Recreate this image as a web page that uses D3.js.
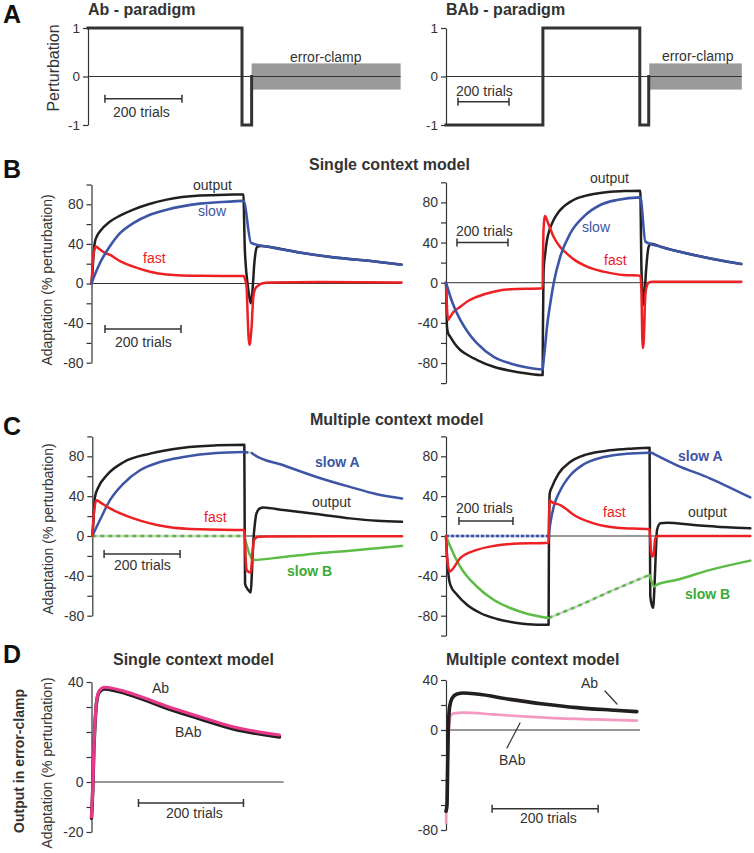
<!DOCTYPE html>
<html><head><meta charset="utf-8">
<script src="https://cdn.jsdelivr.net/npm/d3@7/dist/d3.min.js"></script>
<style>body{margin:0;background:#fff}svg{display:block;font-family:"Liberation Sans",Arial,Helvetica,sans-serif}</style>
</head><body>
<script>
// ---------------- DATA (trial, value) ----------------
// Panel A: perturbation schedules
const perturbAb  = [[0,1],[400,1],[400,-1],[425,-1],[425,0]];
const perturbBAb = [[0,-1],[380,-1],[380,1],[760,1],[760,-1],[795,-1],[795,0]];
const clampAb  = [425, 812];
const clampBAb = [797, 1160];
const clampHalf = 0.27;

// Panel B left (single context, Ab)
const outputB1 = [[0,0],[3,14],[5,27],[9,42],[14,47.5],[22,52.5],[49,62.7],[75,68.5],[110,74.6],[150,80],[198,84.7],[285,88.8],[373,89.8],[400,90],[401,75],[403,40],[406,18],[410,2],[414,-10],[419,-20],[422,-14],[425,0],[428,18],[432,32],[436,37],[445,38],[461,37.3],[549,31.2],[636,26.4],[751,22],[816,19]];
const slowB1   = [[0,0],[10,10],[22,20.5],[48,37.3],[75,50.8],[110,61],[154,69.5],[198,74.6],[285,80.7],[373,83],[400,83.5],[420,41],[461,37.3],[549,31.2],[636,26.4],[751,22],[816,19]];
const fastB1   = [[0,0],[2,12],[4,25],[7,33],[12,37],[20,35],[35,31],[49,28.8],[75,22.5],[110,17],[154,11.9],[198,9.2],[285,7.8],[400,7.5],[405,3],[408,-3],[411,-33],[413,-52],[415,-62],[417,-61],[419,-54],[422,-40],[424,-24],[426,-13],[430,-6],[436,-3],[448,0],[470,1],[600,1.5],[816,1]];

// Panel B right (single context, BAb)
const outputB2 = [[0,0],[2,-25],[4,-44],[8,-50],[17,-54],[35,-61],[56,-67],[88,-72.5],[122,-77],[187,-83.7],[252,-87.7],[318,-90.4],[379,-92],[380,-50],[382,0],[383,12.6],[389,29],[396,42.5],[408,54],[422,62.5],[440,70],[461,75.7],[487,80.5],[513,84],[545,86.5],[579,88.4],[644,90.7],[700,91.3],[762,91.7],[764,60],[766,19],[770,-7],[775,-22],[779,-10],[784,10],[790,28],[795,36],[805,38.9],[841,35.9],[972,27.6],[1102,21],[1158,18.6]];
const slowB2   = [[0,0],[5,-4],[17,-14],[35,-26],[56,-37],[88,-50],[122,-60.5],[187,-73.8],[252,-80.4],[318,-84.4],[379,-86.4],[383,-77],[390,-60],[396,-43.9],[409,-20.6],[422,-0.7],[448,26],[487,49],[540,65.8],[605,77.4],[670,82.4],[762,85],[782,40.9],[841,35.9],[972,27.6],[1102,21],[1158,18.6]];
const fastB2   = [[0,0],[3,-20],[8,-37],[14,-35],[30,-29],[56,-24],[88,-18],[122,-14],[187,-9],[252,-6.6],[379,-5.6],[380,20],[382,50],[386,64],[389,66.4],[395,63],[401,59],[422,45.8],[446,36],[474,29],[505,22.5],[540,17.6],[580,13.5],[618,11],[697,7.6],[762,7],[765,0],[767,-14],[769,-45],[771,-65],[773,-63.5],[775,-60],[778,-40],[780,-20.6],[785,-5.6],[795,0],[810,1],[1158,1]];

// Panel C left (multiple context, Ab)
const outputC1   = [[0,0],[2.6,12.7],[7,39],[16,49],[38,61],[82,74],[152,82.7],[240,88.7],[327,91],[400,91.7],[401,10],[402,-48],[410,-54],[417,-56.7],[420,-37],[424,-4],[428,12.7],[432,22.7],[441,27.7],[450,28.7],[503,26],[590,22],[678,17.7],[749,15.3],[815,14.3]];
const slowAC1    = [[0,0],[20,16],[46.5,36],[82,52.7],[125.5,66],[178,74.3],[240,79.3],[327,83.3],[400,84.3]];
const slowAC1off = [[400,84.3],[420,83.3]];
const slowAC1b   = [[420,83.3],[424,82],[503,71],[590,59.3],[678,49.3],[749,42],[815,37.7]];
const fastC1     = [[0,0],[2,12],[5,26],[11,36],[20,34],[46.5,27.7],[108,17.7],[152,12.7],[196,9.3],[283,6.7],[400,6],[402,-5],[404,-25],[406,-34],[410,-35.7],[417,-36.7],[419,-30],[421,-20.7],[425.6,-4],[437,-0.7],[460,-0.5],[815,-0.3]];
const slowBC1off = [[0,0],[400,0]];
const slowBC1    = [[400,0],[424,-24],[503,-21],[590,-17.5],[678,-14.7],[749,-12.3],[815,-10]];

// Panel C right (multiple context, BAb)
const outputC2   = [[0,0],[3.7,-20.7],[9.9,-40.7],[16,-49],[40.7,-59],[77.8,-69],[127,-77.3],[189,-83.3],[263,-87.3],[337,-89],[380,-89],[381,-20],[384,42.7],[392.6,49.3],[417,62.7],[460,74.3],[522,82],[608.6,86],[682.7,87.7],[754,88.7],[755,20],[756.6,-60.7],[766.6,-72.3],[771.6,-54],[776.5,-20.7],[781.5,6],[794,12.7],[818.5,13.3],[917,11],[1041,8.7],[1127,7.7]];
const slowAC2off = [[0,0],[380,0]];
const slowAC2    = [[380,0],[386.4,12.7],[398.8,29.3],[423.5,46],[460.5,61],[510,72],[584,79.3],[670,82.7],[754,83.7]];
const slowAC2off2= [[754,83.7],[769,83]];
const slowAC2b   = [[769,82.5],[855.6,71],[979,57.7],[1127,38.7]];
const fastC2     = [[0,0],[2,-12],[6,-27],[13.6,-35.7],[22,-34],[52.6,-22.3],[114,-14],[176,-10],[238,-8],[380,-6.7],[381,10],[384,36],[390,34.5],[423.5,31],[485,19.3],[547,12.7],[633,8.3],[754,6.7],[756,-2],[759,-14],[763,-20.7],[769,-19],[772,-10],[775,-2.3],[788,0],[1127,0]];
const slowBC2    = [[0,0],[16,-10.7],[52.6,-30.7],[114,-50.7],[176,-64],[238,-72.3],[300,-78],[380,-82.3]];
const slowBC2off = [[380,-82.3],[485,-70.7],[608.6,-55.7],[754,-39]];
const slowBC2b   = [[754,-39],[771.6,-50.7],[780,-49],[855.6,-44],[979,-34],[1127,-24.7]];

// Panel D: output in error-clamp
const AbD1  = [[0,-14.5],[2.5,-2.5],[4.4,12.3],[7,24.3],[10,32.3],[15,36],[25,37.2],[34,37],[79,34.5],[142,29.6],[206,25.3],[269,21.3],[358,18]];
const BAbD1 = [[0,-14],[2.5,-2],[4.4,12.8],[7,24.8],[10,32.8],[15,36.5],[25,37.9],[34,37.7],[79,35.2],[142,30.4],[206,26.1],[269,22.1],[358,18.8]];
const AbD2  = [[0,-65],[1.9,-60],[3.1,-29.3],[4.4,2.7],[6.9,18.7],[11.3,25.3],[20.8,28.8],[33.3,29.6],[58.5,28.8],[121,24.5],[184,20.8],[247,17.9],[310,16],[360,14.7]];
const BAbD2 = [[0,-74],[1,-62],[2.5,-35],[4.5,-8],[6.5,5],[9.4,12],[14.5,13.3],[33,13.9],[90,12.5],[153,10.7],[216,9.3],[279,8.5],[360,7.5]];
const leaderAbD2  = [[300,31.2],[322.6,20.8]];
const leaderBAbD2 = [[115,-14.4],[139.6,5.6]];

// Tick values / labels
const ticksA = [-1,0,1];
const ticksB1 = [-80,-60,-40,-20,0,20,40,60,80,100];
const ticksB2 = [-100,-80,-60,-40,-20,0,20,40,60,80,100];
const labelsBC = [-80,-40,0,40,80];
const ticksD1 = [-20,-10,0,10,20,30,40];
const labelsD1 = [-20,0,40];
const ticksD2 = [-80,-60,-40,-20,0,20,40];
const labelsD2 = [-80,0,40];
const scaleBarTrials = 200;

// ---------------- DRAWING ----------------
const C = {black:"#231f20", blue:"#3d55a5", red:"#ed2024", green:"#5dbb46", gray:"#9a9a9a",
  text:"#333", magenta:"#e8388a", pink:"#f49ac1", dashBase:"#cfd3cf", blueBase:"#aab6da", greenText:"#3aaa35"};

const svg = d3.select("body").append("svg").attr("width",754).attr("height",853);

function text(x,y,s,o={}){
  const t = svg.append("text").attr("x",x).attr("y",y).text(s)
    .attr("font-size",(o.size||14)+"px").attr("fill",o.color||C.text)
    .attr("font-weight",o.bold?"bold":"normal").attr("text-anchor",o.anchor||"start");
  if(o.rotate) t.attr("transform",`rotate(-90,${x},${y})`);
  return t;
}

function makePanel(cfg){
  const x = d3.scaleLinear().domain([0,cfg.tmax]).range([cfg.x0, cfg.x0 + cfg.k*cfg.tmax]);
  const y = d3.scaleLinear().domain(cfg.ydom).range(cfg.yrange);
  const g = svg.append("g");
  const ax = d3.axisLeft(y).tickValues(cfg.ticks).tickSize(5).tickSizeOuter(0).tickPadding(3)
    .tickFormat(d => cfg.labels.includes(d) ? d : "");
  const axg = g.append("g").attr("transform",`translate(${cfg.x0},0)`).call(ax);
  axg.selectAll("path,line").attr("stroke",C.text).attr("stroke-width",1.2);
  axg.selectAll("text").attr("font-size",(cfg.tickSize||14)+"px").attr("fill",C.text)
    .attr("font-family",'"Liberation Sans",Arial,sans-serif');
  g.append("line").attr("x1",x(0)).attr("x2",x(cfg.tmax)).attr("y1",y(0)).attr("y2",y(0))
    .attr("stroke",C.text).attr("stroke-width",1);
  return {x,y,g};
}

function curve(p,data,color,w,opt={}){
  const gen = d3.line().x(d=>p.x(d[0])).y(d=>p.y(d[1]))
    .curve(opt.linear ? d3.curveLinear : d3.curveMonotoneX);
  if(opt.dashed){
    p.g.append("path").attr("d",gen(data)).attr("fill","none").attr("stroke",opt.base||C.dashBase).attr("stroke-width",w);
    p.g.append("path").attr("d",gen(data)).attr("fill","none").attr("stroke",color).attr("stroke-width",w)
      .attr("stroke-dasharray",opt.dash||"4,4");
  } else {
    p.g.append("path").attr("d",gen(data)).attr("fill","none").attr("stroke",color)
      .attr("stroke-width",w).attr("stroke-linejoin",opt.miter?"miter":"round")
      .attr("stroke-linecap",opt.miter?"square":"round");
  }
}

function scaleBar(p,t0,v){
  const x1 = p.x(t0), x2 = p.x(t0+scaleBarTrials), yy = p.y(v);
  p.g.append("line").attr("x1",x1).attr("x2",x2).attr("y1",yy).attr("y2",yy).attr("stroke",C.text).attr("stroke-width",1.5);
  [x1,x2].forEach(xx=>p.g.append("line").attr("x1",xx).attr("x2",xx).attr("y1",yy-4).attr("y2",yy+4).attr("stroke",C.text).attr("stroke-width",1.5));
}

// ---- Panel A ----
const pA1 = makePanel({x0:88,k:0.385,tmax:812,ydom:[-1,1],yrange:[125,28],ticks:ticksA,labels:ticksA,tickSize:13.5});
pA1.g.insert("rect",":first-child").attr("x",pA1.x(clampAb[0])).attr("width",pA1.x(clampAb[1])-pA1.x(clampAb[0]))
  .attr("y",pA1.y(clampHalf)).attr("height",pA1.y(-clampHalf)-pA1.y(clampHalf)).attr("fill",C.gray);
curve(pA1,perturbAb,"#333",3,{linear:true,miter:true});
scaleBar(pA1,44,-0.46);

const pA2 = makePanel({x0:446,k:0.255,tmax:1160,ydom:[-1,1],yrange:[125,28],ticks:ticksA,labels:ticksA,tickSize:13.5});
pA2.g.insert("rect",":first-child").attr("x",pA2.x(clampBAb[0])).attr("width",pA2.x(clampBAb[1])-pA2.x(clampBAb[0]))
  .attr("y",pA2.y(clampHalf)).attr("height",pA2.y(-clampHalf)-pA2.y(clampHalf)).attr("fill",C.gray);
curve(pA2,perturbBAb,"#333",3,{linear:true,miter:true});
scaleBar(pA2,47,-0.52);

// ---- Panel B ----
const pB1 = makePanel({x0:91.5,k:0.38,tmax:816,ydom:[-80,100],yrange:[362.7,184.5],ticks:ticksB1,labels:labelsBC});
curve(pB1,outputB1,C.black,2.5);
curve(pB1,fastB1,C.red,2.5);
curve(pB1,slowB1,C.blue,2.6);
scaleBar(pB1,35.5,-46);

const pB2 = makePanel({x0:446,k:0.255,tmax:1158,ydom:[-100,100],yrange:[383.1,182.3],ticks:ticksB2,labels:labelsBC});
curve(pB2,outputB2,C.black,2.5);
curve(pB2,fastB2,C.red,2.5);
curve(pB2,slowB2,C.blue,2.6);
scaleBar(pB2,43,40);

// ---- Panel C ----
const pC1 = makePanel({x0:92.3,k:0.38,tmax:815,ydom:[-80,100],yrange:[615.7,436.4],ticks:ticksB1,labels:labelsBC});
curve(pC1,slowBC1off,C.green,2.5,{dashed:true});
curve(pC1,slowAC1off,C.blue,2.5,{dashed:true});
curve(pC1,outputC1,C.black,2.5);
curve(pC1,slowAC1,C.blue,2.5);
curve(pC1,slowAC1b,C.blue,2.5);
curve(pC1,slowBC1,C.green,2.5);
curve(pC1,fastC1,C.red,2.5);
scaleBar(pC1,31,-18);

const pC2 = makePanel({x0:446,k:0.27,tmax:1127,ydom:[-100,100],yrange:[635.6,436.4],ticks:ticksB2,labels:labelsBC});
curve(pC2,slowAC2off,C.blue,2.3,{dashed:true,base:C.blueBase,dash:"3,2"});
curve(pC2,slowBC2off,C.green,2.5,{dashed:true});
curve(pC2,slowAC2off2,C.blue,2.5,{dashed:true});
curve(pC2,outputC2,C.black,2.5);
curve(pC2,slowBC2,C.green,2.5);
curve(pC2,slowBC2b,C.green,2.5);
curve(pC2,slowAC2,C.blue,2.5);
curve(pC2,slowAC2b,C.blue,2.5);
curve(pC2,fastC2,C.red,2.5);
scaleBar(pC2,48,15);

// ---- Panel D ----
const pD1 = makePanel({x0:91.5,k:0.525,tmax:366,ydom:[-20,40],yrange:[832,682],ticks:ticksD1,labels:labelsD1});
curve(pD1,AbD1,C.black,3.5);
curve(pD1,BAbD1,C.magenta,3.2);
scaleBar(pD1,89.5,-8.4);

const pD2 = makePanel({x0:446,k:0.53,tmax:366,ydom:[-80,40],yrange:[830,680],ticks:ticksD2,labels:labelsD2});
curve(pD2,BAbD2,C.pink,2.6);
curve(pD2,AbD2,C.black,3.6);
curve(pD2,leaderAbD2,C.text,1.2,{linear:true});
curve(pD2,leaderBAbD2,C.text,1.2,{linear:true});
scaleBar(pD2,87,-63);

// ---------------- TEXT ----------------
text(3,23,"A",{size:25,bold:true,color:"#111"});
text(3,178,"B",{size:25,bold:true,color:"#111"});
text(3,435,"C",{size:25,bold:true,color:"#111"});
text(3,663,"D",{size:25,bold:true,color:"#111"});

text(88,15,"Ab - paradigm",{size:16,bold:true});
text(446,15,"BAb - paradigm",{size:16,bold:true});
text(309,170,"Single context model",{size:16,bold:true});
text(310,425,"Multiple context model",{size:16,bold:true});
text(113,665,"Single context model",{size:16,bold:true});
text(446,665,"Multiple context model",{size:16,bold:true});

text(59,68,"Perturbation",{size:16,rotate:true,anchor:"middle"});
text(52,280,"Adaptation (% perturbation)",{size:14,rotate:true,anchor:"middle"});
text(53,529,"Adaptation (% perturbation)",{size:14,rotate:true,anchor:"middle"});
text(24,761,"Output in error-clamp",{size:14,rotate:true,anchor:"middle",bold:true});
text(52,763,"Adaptation (% perturbation)",{size:14,rotate:true,anchor:"middle"});

text(290,62,"error-clamp");
text(113,117,"200 trials");
text(662,61,"error-clamp");
text(456,96,"200 trials");
text(193,190,"output");
text(198,216,"slow",{color:C.blue});
text(143,263,"fast",{color:C.red});
text(115,347,"200 trials");
text(590,183,"output");
text(582,232,"slow",{color:C.blue});
text(604,265,"fast",{color:C.red});
text(456,236,"200 trials");
text(315,467,"slow A",{color:C.blue,bold:true});
text(312,507,"output");
text(204,522,"fast",{color:C.red});
text(287,576,"slow B",{color:C.greenText,bold:true});
text(114,570,"200 trials");
text(678,461,"slow A",{color:C.blue,bold:true});
text(603,517,"fast",{color:C.red});
text(688,517,"output");
text(685,599,"slow B",{color:C.greenText,bold:true});
text(456,513,"200 trials");
text(152,693,"Ab");
text(175,737,"BAb");
text(166,818,"200 trials");
text(581,688,"Ab");
text(499,765,"BAb");
text(520,823,"200 trials");
</script>
</body></html>
